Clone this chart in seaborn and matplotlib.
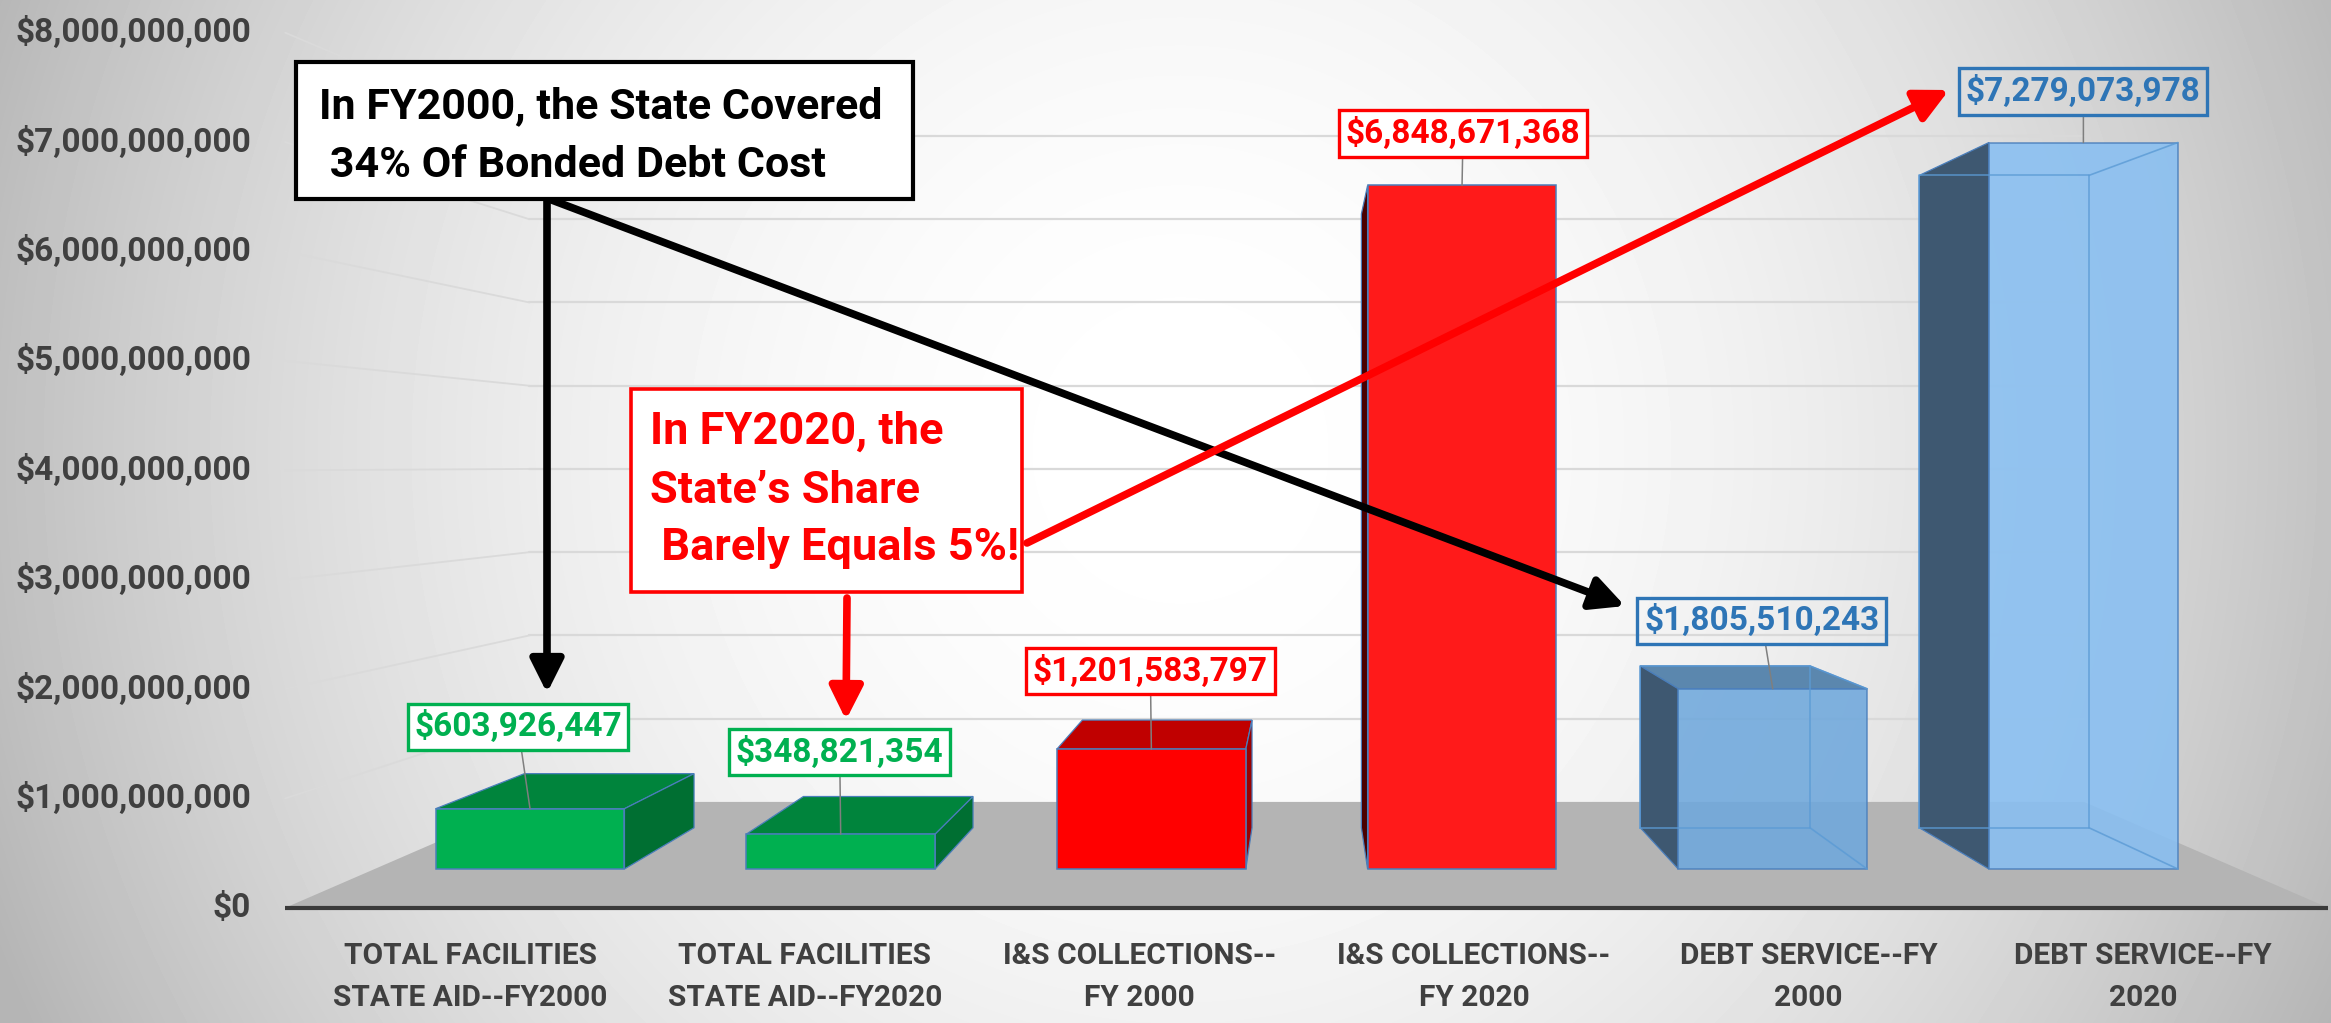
import numpy as np
import pandas as pd
import matplotlib
matplotlib.use("Agg")
import matplotlib.pyplot as plt
import seaborn as sns
from matplotlib.patches import Polygon, Rectangle

# --- data -------------------------------------------------------------
categories = [
    "TOTAL FACILITIES\nSTATE AID--FY2000",
    "TOTAL FACILITIES\nSTATE AID--FY2020",
    "I&S COLLECTIONS--\nFY 2000",
    "I&S COLLECTIONS--\nFY 2020",
    "DEBT SERVICE--FY\n2000",
    "DEBT SERVICE--FY\n2020",
]
amounts = [603926447, 348821354, 1201583797, 6848671368, 1805510243, 7279073978]
y_ticks = [0, 1e9, 2e9, 3e9, 4e9, 5e9, 6e9, 7e9, 8e9]

note_fy2000 = ["In FY2000, the State Covered", " 34% Of Bonded Debt Cost"]
note_fy2020 = ["In FY2020, the", "State\u2019s Share", " Barely Equals 5%!"]

# --- styling ----------------------------------------------------------
W, H, DPI = 2331, 1023, 100
front_colors = ["#00B050", "#00B050", "#FF0000", "#FF1A1A", "#6FA8DC", "#88BFF2"]
top_colors = ["#00843C", "#00843C", "#C00000", "#C00000", "#5B87AE", "#6FA0D0"]
side_colors = ["#006F32", "#006F32", "#9A0000", "#4A0000", "#3E5871", "#3E5871"]
label_colors = ["#00B050", "#00B050", "#FF0000", "#FF0000", "#2E75B6", "#2E75B6"]
translucent = [False, False, False, False, True, True]
label_raise_px = [82, 82, 78, 52, 68, 51]
label_shift_px = [-12, -1, -1, 1, -11, 0]
EDGE = "#4A7EBB"
TXT_GRAY = "#404040"

BAR_W = 0.608
VP = (2.5, 4.05e9)          # vanishing point, in data units of the bar plane
S_BAR_BACK = 0.898
S_FRONT = 1.096
S_BACK = 0.834
S_CAT = 1.077
PT = 72 / DPI               # px -> pt

sns.set_style("white")
plt.rcParams["font.family"] = ["Roboto", "DejaVu Sans"]


def proj(x, v, s):
    return VP[0] + s * (x - VP[0]), VP[1] + s * (v - VP[1])


def fpx(x, y):
    return x / W, 1 - y / H


fig = plt.figure(figsize=(W / DPI, H / DPI), dpi=DPI)
ax = fig.add_axes([0, 0, 1, 1])
xlim = (-1.706, 5.797)
ylim = (-1.543e9, 8.707e9)

# background gradient
gx, gy = np.meshgrid(np.arange(W), np.arange(H))
r = np.sqrt(((gx - 1180) / 1160) ** 2 + ((gy - 450) / 1200) ** 2)
grad = 1 - 0.24 * np.clip(r, 0, 1.1) ** 2
ax.imshow(grad, extent=(xlim[0], xlim[1], ylim[0], ylim[1]), aspect="auto",
          cmap="gray", vmin=0, vmax=1, zorder=0, interpolation="bilinear")

df = pd.DataFrame({"category": categories, "amount": amounts})
sns.barplot(data=df, x="category", y="amount", hue="category", palette=front_colors,
            width=BAR_W, saturation=1, errorbar=None, legend=False,
            edgecolor=EDGE, linewidth=1.1, ax=ax)

for p in ax.patches:
    i = int(round(p.get_x() + p.get_width() / 2))
    p.set_zorder(4)
    if translucent[i]:
        p.set_alpha(0.88)

# floor
floor = [proj(-0.5, 0, S_FRONT), proj(5.5, 0, S_FRONT), proj(5.5, 0, S_BACK), proj(-0.5, 0, S_BACK)]
ax.add_patch(Polygon(floor, closed=True, facecolor="#B4B4B4", edgecolor="none", zorder=1))
fl, fr = proj(-0.5, 0, S_FRONT), proj(5.5, 0, S_FRONT)
ax.plot([fl[0], fr[0]], [fl[1], fr[1]], color="#3A3A3A", lw=3, zorder=1.6, solid_capstyle="butt")

# gridlines on back wall and left wall, tick labels at the front
for v in y_ticks:
    if v > 0:
        a, b = proj(-0.5, v, S_BACK), proj(5.5, v, S_BACK)
        ax.plot([a[0], b[0]], [a[1], b[1]], color="#D9D9D9", lw=1.6, zorder=1.5)
        c = proj(-0.5, v, S_FRONT)
        ax.plot([c[0], a[0]], [c[1], a[1]], color="#DADADA", lw=1.3, zorder=1.5)
    ax.annotate(f"${v:,.0f}", xy=proj(-0.5, v, S_FRONT), xytext=(-34 * PT, 0),
                textcoords="offset points", ha="right", va="center",
                fontsize=24, fontweight="bold", color=TXT_GRAY, zorder=6)

# 3-D faces of the bars
for i, v in enumerate(amounts):
    xl, xr = i - BAR_W / 2, i + BAR_W / 2
    if v < VP[1]:
        top = [(xl, v), (xr, v), proj(xr, v, S_BAR_BACK), proj(xl, v, S_BAR_BACK)]
        ax.add_patch(Polygon(top, closed=True, facecolor=top_colors[i], edgecolor=EDGE,
                             lw=0.9, zorder=3))
    if xr < VP[0]:
        side = [(xr, 0), (xr, v), proj(xr, v, S_BAR_BACK), proj(xr, 0, S_BAR_BACK)]
        ax.add_patch(Polygon(side, closed=True, facecolor=side_colors[i], edgecolor=EDGE,
                             lw=0.9, zorder=3))
    if xl > VP[0]:
        side = [(xl, 0), (xl, v), proj(xl, v, S_BAR_BACK), proj(xl, 0, S_BAR_BACK)]
        ax.add_patch(Polygon(side, closed=True, facecolor=side_colors[i], edgecolor=EDGE,
                             lw=0.9, zorder=3))
    if translucent[i]:
        back = [proj(xl, 0, S_BAR_BACK), proj(xr, 0, S_BAR_BACK),
                proj(xr, v, S_BAR_BACK), proj(xl, v, S_BAR_BACK), proj(xl, 0, S_BAR_BACK)]
        bx, by = zip(*back)
        ax.plot(bx, by, color="#5B9BD5", lw=1.2, alpha=0.8, zorder=4.5)
        for cx, cy in [(xr, 0), (xr, v)]:
            px_, py_ = proj(cx, cy, S_BAR_BACK)
            ax.plot([cx, px_], [cy, py_], color="#5B9BD5", lw=1.2, alpha=0.8, zorder=4.5)

    # value label with leader line
    ax.annotate(f"${v:,.0f}", xy=(i, v),
                xytext=(label_shift_px[i] * PT, label_raise_px[i] * PT),
                textcoords="offset points", ha="center", va="center",
                fontsize=24, fontweight="bold", color=label_colors[i], zorder=6,
                bbox=dict(boxstyle="square,pad=0.2",
                          facecolor="none" if translucent[i] else "white",
                          edgecolor=label_colors[i], lw=2.4),
                arrowprops=dict(arrowstyle="-", color="#7F7F7F", lw=1.1,
                                shrinkA=0, shrinkB=0))

    # category label on the front floor edge
    cx = proj(i, 0, S_CAT)[0]
    ax.annotate(categories[i], xy=(cx, 0), xytext=(0, -108 * PT), textcoords="offset points",
                ha="center", va="center", fontsize=21.5, fontweight="bold",
                color=TXT_GRAY, linespacing=1.6, zorder=6)

ax.set_xlim(*xlim)
ax.set_ylim(*ylim)
ax.axis("off")

# --- call-out boxes and arrows -----------------------------------------
arrow_kw = dict(arrowstyle="-|>,head_length=0.5,head_width=0.25", mutation_scale=40,
                shrinkA=0, shrinkB=0, lw=5.5)
for (x0, y0), (x1, y1), col in [
    ((547, 199), (547, 693), "black"),
    ((549, 199), (1625, 606), "black"),
    ((847, 598), (846, 720), "#FF0000"),
    ((1027, 543), (1949, 90), "#FF0000"),
]:
    ax.annotate("", xy=fpx(x1, y1), xycoords="figure fraction",
                xytext=fpx(x0, y0), textcoords="figure fraction",
                arrowprops=dict(color=col, **arrow_kw), zorder=8)

fig.add_artist(Rectangle(fpx(296, 199), 617 / W, 137 / H, transform=fig.transFigure,
                         facecolor="white", edgecolor="black", lw=3, zorder=9))
for line, base in zip(note_fy2000, [118, 177]):
    fig.text(319 / W, 1 - base / H, line, ha="left", va="baseline", fontsize=31,
             fontweight="bold", color="black", zorder=10)

fig.add_artist(Rectangle(fpx(631, 592), 391 / W, 203 / H, transform=fig.transFigure,
                         facecolor="white", edgecolor="#FF0000", lw=2.6, zorder=9))
for line, base in zip(note_fy2020, [444, 503, 560]):
    fig.text(650 / W, 1 - base / H, line, ha="left", va="baseline", fontsize=32.5,
             fontweight="bold", color="#FF0000", zorder=10)

fig.savefig("out.png", dpi=DPI)
